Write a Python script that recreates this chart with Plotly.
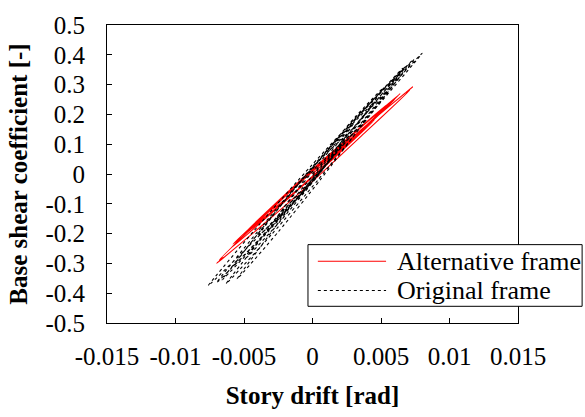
import plotly.graph_objects as go

# Story drift [rad] vs. base shear coefficient [-], hysteresis loops
alt_drift = [
    0.0, 0.0012, 0.0025,
    0.001125, -0.00025, -0.001625, -0.0030,
    -0.001125, 0.00075, 0.002625, 0.0045,
    0.002125, -0.00025, -0.002625, -0.0050,
    -0.00225, 0.0005, 0.00325, 0.0060,
    0.00305, 0.0001, -0.00285, -0.0058,
    -0.002525, 0.00075, 0.004025, 0.0073, 0.0068, 0.0071,
    0.003575, 0.0001, -0.003425, -0.0070, -0.0065, -0.0068,
    -0.0035, -0.0002, 0.0031, 0.0064,
    0.0033, 0.0002, -0.0029, -0.0060,
    -0.003125, -0.00025, 0.002625, 0.0055,
    0.002975, 0.00045, -0.002075, -0.0046,
    -0.002575, -0.00055, 0.001475, 0.0035,
    0.0015, 0.0002,
]
alt_shear = [
    0.0, 0.05, 0.10,
    0.037, -0.021, -0.073, -0.12,
    -0.037, 0.041, 0.113, 0.18,
    0.077, -0.021, -0.113, -0.20,
    -0.0795, 0.036, 0.1455, 0.25,
    0.1208, -0.0035, -0.1218, -0.235,
    -0.0958, 0.0385, 0.1668, 0.292, 0.272, 0.281,
    0.1278, -0.0205, -0.1628, -0.300, -0.279, -0.288,
    -0.1405, 0.002, 0.1385, 0.27,
    0.132, -0.001, -0.128, -0.25,
    -0.1208, 0.0035, 0.1218, 0.235,
    0.1208, 0.0115, -0.0918, -0.19,
    -0.0995, -0.014, 0.0655, 0.14,
    0.05, 0.0,
]

orig_drift = [
    0.0, 0.0010, 0.0020, 0.0030,
    0.00155, 0.0002, -0.00135, -0.0028,
    -0.0008, 0.0012, 0.0032, 0.0052,
    0.0027, 0.0002, -0.0023, -0.0048,
    -0.00195, 0.0009, 0.00375, 0.0066,
    0.003575, 0.00055, -0.002475, -0.0055,
    -0.00235, 0.0008, 0.00395, 0.0071,
    0.00375, 0.0004, -0.00295, -0.0063,
    -0.002725, 0.00085, 0.004425, 0.0080,
    0.0041, 0.0002, -0.0037, -0.0076,
    -0.00385, -0.0001, 0.00365, 0.0074,
    0.0038, 0.0002, -0.0034, -0.0070,
    -0.00355, -0.0001, 0.00335, 0.0068,
    0.00345, 0.0001, -0.00325, -0.0066,
    -0.00345, -0.0003, 0.00285, 0.0060,
    0.00285, 0.0001, -0.00285, -0.0058,
    -0.003225, -0.00065, 0.001925, 0.0045,
    0.002375, 0.00025, -0.001875, -0.0040,
    -0.002375, -0.00075, 0.000875, 0.0025,
    0.0014, 0.0003,
]
orig_shear = [
    0.0, 0.055, 0.113, 0.17,
    0.0715, -0.017, -0.0955, -0.16,
    -0.0315, 0.087, 0.1955, 0.29,
    0.1315, -0.017, -0.1555, -0.28,
    -0.105, 0.0595, 0.214, 0.355,
    0.162, -0.0205, -0.193, -0.352,
    -0.155, 0.032, 0.209, 0.372,
    0.171, -0.020, -0.201, -0.368,
    -0.159, 0.0405, 0.230, 0.405,
    0.194, -0.0065, -0.198, -0.374,
    -0.168, 0.0275, 0.213, 0.385,
    0.1815, -0.012, -0.1955, -0.365,
    -0.168, 0.0195, 0.197, 0.36,
    0.165, -0.0195, -0.194, -0.355,
    -0.170, 0.0045, 0.169, 0.32,
    0.1465, -0.017, -0.1705, -0.31,
    -0.1565, -0.013, 0.1205, 0.24,
    0.1115, -0.007, -0.1155, -0.21,
    -0.109, -0.018, 0.063, 0.13,
    0.055, -0.005,
]

x_ticks = [-0.015, -0.01, -0.005, 0, 0.005, 0.01, 0.015]
x_tick_text = ["-0.015", "-0.01", "-0.005", "0", "0.005", "0.01", "0.015"]
y_ticks = [-0.5, -0.4, -0.3, -0.2, -0.1, 0, 0.1, 0.2, 0.3, 0.4, 0.5]
y_tick_text = ["-0.5", "-0.4", "-0.3", "-0.2", "-0.1", "0", "0.1", "0.2", "0.3", "0.4", "0.5"]

series_names = ["Alternative frame", "Original frame"]
series_colors = ["#ff0000", "black"]
series_dash = ["solid", "dot"]

FONT = "Liberation Serif"
FSIZE = 25

fig = go.Figure()
for xs, ys, name, color, dash in zip(
    [alt_drift, orig_drift], [alt_shear, orig_shear],
    series_names, series_colors, series_dash,
):
    fig.add_trace(go.Scatter(
        x=xs, y=ys, mode="lines", name=name, showlegend=False,
        line=dict(color=color, width=1.1, dash=dash, shape="spline", smoothing=0.6),
    ))

axis_common = dict(
    showline=True, linecolor="black", linewidth=1, mirror=True,
    ticks="inside", ticklen=5, tickcolor="black", tickwidth=1,
    showgrid=False, zeroline=False,
    tickfont=dict(family=FONT, size=FSIZE, color="black"),
)

fig.update_xaxes(
    range=[-0.015, 0.015], tickvals=x_ticks, ticktext=x_tick_text,
    ticklabelstandoff=11,
    title=dict(text="<b>Story drift [rad]</b>", standoff=17,
               font=dict(family=FONT, size=FSIZE, color="black")),
    **axis_common,
)
fig.update_yaxes(
    range=[-0.5, 0.5], tickvals=y_ticks, ticktext=y_tick_text,
    ticklabelstandoff=16,
    title=dict(text="<b>Base shear coefficient [-]</b>", standoff=10,
               font=dict(family=FONT, size=FSIZE, color="black")),
    **axis_common,
)

# Legend box drawn in paper coordinates (extends past the right edge of the axes)
box_x0, box_x1, box_y0, box_y1 = 0.489, 1.156, 0.056, 0.263
sample_x0, sample_x1, text_x = 0.513, 0.679, 0.700
row_y = [0.207, 0.109]

shapes = [dict(type="rect", xref="paper", yref="paper",
               x0=box_x0, x1=box_x1, y0=box_y0, y1=box_y1,
               line=dict(color="black", width=1), fillcolor="white", layer="above")]
annotations = []
for name, color, dash, yy in zip(series_names, series_colors, series_dash, row_y):
    shapes.append(dict(type="line", xref="paper", yref="paper",
                       x0=sample_x0, x1=sample_x1, y0=yy, y1=yy,
                       line=dict(color=color, width=1.1, dash=dash), layer="above"))
    annotations.append(dict(xref="paper", yref="paper", x=text_x, y=yy,
                            xanchor="left", yanchor="middle", showarrow=False,
                            text=name, font=dict(family=FONT, size=26, color="black")))

fig.update_layout(
    width=585, height=417,
    margin=dict(l=107, r=67, t=21, b=92),
    paper_bgcolor="white", plot_bgcolor="white",
    font=dict(family=FONT, size=FSIZE, color="black"),
    shapes=shapes, annotations=annotations,
    showlegend=False,
)

fig.write_html("out.html")
